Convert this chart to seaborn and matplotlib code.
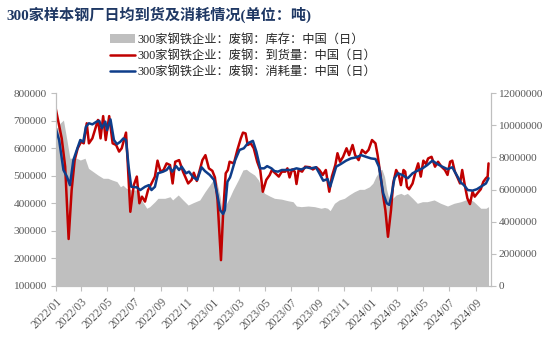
import matplotlib
matplotlib.use("Agg")
import matplotlib.pyplot as plt
import matplotlib.dates as mdates
import matplotlib.ticker as mticker
from matplotlib.patches import Patch
from matplotlib.lines import Line2D
import seaborn as sns
import pandas as pd

# ---- data (tons) ----
arrival_dates = [
    "2022-01-01", "2022-01-08", "2022-01-15", "2022-01-23", "2022-01-31", "2022-02-07",
    "2022-02-14", "2022-02-21", "2022-03-01", "2022-03-07", "2022-03-14", "2022-03-19",
    "2022-03-27", "2022-04-09", "2022-04-15", "2022-04-21", "2022-04-27", "2022-05-05",
    "2022-05-13", "2022-05-21", "2022-05-28", "2022-06-03", "2022-06-13", "2022-06-17",
    "2022-06-23", "2022-07-01", "2022-07-08", "2022-07-14", "2022-07-20", "2022-07-27",
    "2022-08-03", "2022-08-11", "2022-08-19", "2022-08-25", "2022-09-01", "2022-09-08",
    "2022-09-15", "2022-09-23", "2022-09-29", "2022-10-05", "2022-10-14", "2022-10-23",
    "2022-11-04", "2022-11-12", "2022-11-17", "2022-11-24", "2022-12-01", "2022-12-07",
    "2022-12-14", "2022-12-22", "2022-12-30", "2023-01-05", "2023-01-11", "2023-01-19",
    "2023-01-24", "2023-01-30", "2023-02-04", "2023-02-08", "2023-02-18", "2023-02-26",
    "2023-03-06", "2023-03-11", "2023-03-17", "2023-03-22", "2023-03-29", "2023-04-05",
    "2023-04-13", "2023-04-20", "2023-04-26", "2023-05-04", "2023-05-12", "2023-05-17",
    "2023-05-25", "2023-06-02", "2023-06-09", "2023-06-17", "2023-06-22", "2023-06-27",
    "2023-07-03", "2023-07-09", "2023-07-13", "2023-07-18", "2023-07-26", "2023-08-02",
    "2023-08-13", "2023-08-20", "2023-08-28", "2023-09-04", "2023-09-12", "2023-09-19",
    "2023-09-27", "2023-10-03", "2023-10-11", "2023-10-16", "2023-10-22", "2023-10-29",
    "2023-11-06", "2023-11-12", "2023-11-20", "2023-11-26", "2023-12-04", "2023-12-12",
    "2023-12-20", "2023-12-27", "2024-01-04", "2024-01-12", "2024-01-17", "2024-01-23",
    "2024-01-29", "2024-02-04", "2024-02-10", "2024-02-17", "2024-02-22", "2024-02-29",
    "2024-03-06", "2024-03-11", "2024-03-17", "2024-03-21", "2024-03-25", "2024-03-30",
    "2024-04-07", "2024-04-14", "2024-04-20", "2024-04-26", "2024-05-02", "2024-05-08",
    "2024-05-13", "2024-05-21", "2024-05-29", "2024-06-05", "2024-06-13", "2024-06-21",
    "2024-06-27", "2024-07-03", "2024-07-08", "2024-07-14", "2024-07-20", "2024-07-26",
    "2024-07-31", "2024-08-06", "2024-08-12", "2024-08-18", "2024-08-24", "2024-08-29",
    "2024-09-04", "2024-09-12", "2024-09-18", "2024-09-24", "2024-09-28", "2024-09-30",
]
arrival_tons = [
    745000, 691000, 636000, 533000, 270000, 448000,
    557000, 600000, 624000, 618000, 691000, 618000,
    636000, 703000, 636000, 717000, 630000, 717000,
    618000, 612000, 588000, 600000, 657000, 545000,
    369000, 466000, 497000, 400000, 424000, 406000,
    448000, 472000, 497000, 555000, 515000, 521000,
    545000, 539000, 472000, 551000, 557000, 515000,
    472000, 485000, 511000, 481000, 521000, 557000,
    575000, 527000, 518000, 494000, 412000, 193000,
    363000, 509000, 521000, 551000, 545000, 594000,
    636000, 657000, 654000, 612000, 618000, 600000,
    551000, 521000, 442000, 485000, 503000, 521000,
    509000, 497000, 515000, 515000, 527000, 494000,
    523000, 515000, 470000, 521000, 515000, 533000,
    531000, 523000, 531000, 521000, 503000, 521000,
    442000, 497000, 539000, 582000, 551000, 569000,
    600000, 575000, 612000, 575000, 557000, 594000,
    582000, 594000, 630000, 618000, 575000, 509000,
    436000, 375000, 278000, 375000, 472000, 521000,
    503000, 466000, 521000, 515000, 460000, 451000,
    472000, 515000, 545000, 497000, 555000, 543000,
    563000, 569000, 533000, 551000, 533000, 521000,
    503000, 551000, 555000, 515000, 494000, 472000,
    521000, 466000, 418000, 397000, 442000, 424000,
    436000, 451000, 478000, 491000, 497000, 545000,
]

consumption_dates = [
    "2022-01-01", "2022-01-09", "2022-01-19", "2022-01-27", "2022-02-03", "2022-02-11",
    "2022-02-19", "2022-02-27", "2022-03-06", "2022-03-12", "2022-03-19", "2022-03-27",
    "2022-04-06", "2022-04-12", "2022-04-18", "2022-04-26", "2022-04-30", "2022-05-08",
    "2022-05-16", "2022-05-23", "2022-05-31", "2022-06-07", "2022-06-13", "2022-06-19",
    "2022-06-25", "2022-07-08", "2022-07-16", "2022-07-27", "2022-08-05", "2022-08-11",
    "2022-08-19", "2022-08-26", "2022-09-07", "2022-09-15", "2022-09-21", "2022-09-28",
    "2022-10-07", "2022-10-14", "2022-10-20", "2022-10-30", "2022-11-06", "2022-11-16",
    "2022-11-25", "2022-12-05", "2022-12-13", "2022-12-24", "2023-01-03", "2023-01-10",
    "2023-01-17", "2023-01-24", "2023-01-28", "2023-02-03", "2023-02-09", "2023-02-12",
    "2023-02-21", "2023-03-03", "2023-03-13", "2023-03-22", "2023-04-03", "2023-04-11",
    "2023-04-20", "2023-04-29", "2023-05-06", "2023-05-16", "2023-05-23", "2023-05-31",
    "2023-06-09", "2023-06-19", "2023-07-01", "2023-07-13", "2023-07-24", "2023-08-05",
    "2023-08-16", "2023-08-27", "2023-09-04", "2023-09-13", "2023-09-23", "2023-09-29",
    "2023-10-05", "2023-10-13", "2023-10-24", "2023-11-05", "2023-11-16", "2023-11-28",
    "2023-12-10", "2023-12-21", "2024-01-02", "2024-01-12", "2024-01-20", "2024-01-25",
    "2024-01-30", "2024-02-07", "2024-02-13", "2024-02-19", "2024-02-25", "2024-03-04",
    "2024-03-14", "2024-03-23", "2024-03-27", "2024-04-07", "2024-04-18", "2024-04-30",
    "2024-05-11", "2024-05-23", "2024-06-03", "2024-06-15", "2024-06-27", "2024-07-08",
    "2024-07-18", "2024-07-28", "2024-08-04", "2024-08-13", "2024-08-24", "2024-09-03",
    "2024-09-12", "2024-09-24", "2024-09-30",
]
consumption_tons = [
    673000, 630000, 521000, 497000, 466000, 557000,
    594000, 630000, 624000, 678000, 691000, 687000,
    697000, 700000, 673000, 697000, 666000, 705000,
    630000, 615000, 624000, 636000, 630000, 533000,
    460000, 458000, 448000, 460000, 466000, 448000,
    460000, 509000, 515000, 521000, 533000, 515000,
    535000, 521000, 533000, 509000, 515000, 494000,
    485000, 531000, 517000, 503000, 485000, 436000,
    375000, 361000, 375000, 478000, 494000, 509000,
    557000, 594000, 600000, 618000, 627000, 588000,
    527000, 527000, 535000, 527000, 517000, 515000,
    521000, 521000, 521000, 527000, 523000, 531000,
    527000, 531000, 509000, 482000, 488000, 460000,
    491000, 533000, 543000, 555000, 563000, 567000,
    575000, 569000, 563000, 561000, 533000, 485000,
    436000, 400000, 394000, 436000, 491000, 509000,
    503000, 494000, 491000, 509000, 518000, 527000,
    539000, 555000, 543000, 533000, 524000, 531000,
    503000, 475000, 466000, 448000, 446000, 451000,
    460000, 472000, 491000,
]

stock_dates = [
    "2022-01-01", "2022-01-08", "2022-01-11", "2022-01-19", "2022-01-27", "2022-02-03",
    "2022-02-11", "2022-02-19", "2022-02-27", "2022-03-10", "2022-03-18", "2022-03-29",
    "2022-04-09", "2022-04-21", "2022-05-02", "2022-05-12", "2022-05-23", "2022-05-31",
    "2022-06-06", "2022-06-14", "2022-06-26", "2022-07-07", "2022-07-12", "2022-07-20",
    "2022-07-31", "2022-08-07", "2022-08-19", "2022-08-26", "2022-09-11", "2022-09-23",
    "2022-09-29", "2022-10-12", "2022-10-23", "2022-11-04", "2022-11-16", "2022-12-01",
    "2022-12-13", "2022-12-24", "2023-01-05", "2023-01-10", "2023-01-17", "2023-01-23",
    "2023-01-30", "2023-02-09", "2023-02-16", "2023-02-28", "2023-03-11", "2023-03-19",
    "2023-03-26", "2023-04-07", "2023-04-16", "2023-04-22", "2023-04-30", "2023-05-12",
    "2023-05-23", "2023-06-08", "2023-06-23", "2023-07-05", "2023-07-13", "2023-07-24",
    "2023-08-09", "2023-08-24", "2023-09-08", "2023-09-16", "2023-09-23", "2023-09-29",
    "2023-10-09", "2023-10-20", "2023-11-01", "2023-11-12", "2023-11-24", "2023-12-06",
    "2023-12-17", "2023-12-29", "2024-01-06", "2024-01-13", "2024-01-23", "2024-01-27",
    "2024-02-02", "2024-02-07", "2024-02-13", "2024-02-21", "2024-02-29", "2024-03-11",
    "2024-03-18", "2024-03-26", "2024-04-07", "2024-04-18", "2024-04-30", "2024-05-11",
    "2024-05-27", "2024-06-11", "2024-06-27", "2024-07-12", "2024-07-28", "2024-08-08",
    "2024-08-15", "2024-08-27", "2024-09-12", "2024-09-24", "2024-09-30",
]
stock_tons = [
    9820000, 9920000, 10130000, 10330000, 9090000, 7950000,
    7950000, 7950000, 7840000, 7950000, 7320000, 7110000,
    6900000, 6700000, 6700000, 6590000, 6490000, 6170000,
    6270000, 6070000, 5970000, 5970000, 5900000, 5300000,
    4830000, 4930000, 5240000, 5450000, 5450000, 5550000,
    5350000, 5660000, 5350000, 5030000, 5180000, 5350000,
    5860000, 6280000, 6760000, 6390000, 5550000, 4410000,
    5030000, 5550000, 5970000, 6590000, 7220000, 7260000,
    7110000, 6900000, 6590000, 6170000, 5760000, 5590000,
    5450000, 5400000, 5300000, 5240000, 4970000, 4930000,
    4970000, 4930000, 4830000, 4880000, 4830000, 4680000,
    5140000, 5350000, 5450000, 5660000, 5860000, 6010000,
    6010000, 6170000, 6390000, 6800000, 7220000, 7260000,
    6800000, 5970000, 5350000, 5450000, 5660000, 5760000,
    5660000, 5760000, 5450000, 5140000, 5240000, 5240000,
    5350000, 5140000, 4970000, 5140000, 5240000, 5350000,
    5450000, 5240000, 4830000, 4830000, 4930000,
]

title_text = "300家样本钢厂日均到货及消耗情况(单位：吨)"
legend_labels = [
    "300家钢铁企业：废钢：库存：中国（日）",
    "300家钢铁企业：废钢：到货量：中国（日）",
    "300家钢铁企业：废钢：消耗量：中国（日）",
]

STOCK_COLOR = "#BFBFBF"
ARRIVAL_COLOR = "#C00000"
CONSUME_COLOR = "#0E3D8A"
TICK_COLOR = "#595959"
SPINE_COLOR = "#BFBFBF"

sns.set_theme(style="white")
plt.rcParams["font.family"] = ["Liberation Serif", "Noto Sans CJK SC", "DejaVu Sans"]

stock = pd.DataFrame({"date": pd.to_datetime(stock_dates), "tons": stock_tons})
arrival = pd.DataFrame({"date": pd.to_datetime(arrival_dates), "tons": arrival_tons})
consume = pd.DataFrame({"date": pd.to_datetime(consumption_dates), "tons": consumption_tons})

fig = plt.figure(figsize=(5.54, 3.5), dpi=100)
ax = fig.add_axes([0.1005, 0.1837, 0.7852, 0.5497])
ax2 = ax.twinx()
ax.set_zorder(ax2.get_zorder() + 1)
ax.patch.set_visible(False)

# inventory as a filled area on the right axis
ax2.fill_between(stock["date"], stock["tons"], 0, color=STOCK_COLOR, linewidth=0)

# arrivals and consumption on the left axis
sns.lineplot(data=arrival, x="date", y="tons", ax=ax, color=ARRIVAL_COLOR, linewidth=1.8)
sns.lineplot(data=consume, x="date", y="tons", ax=ax, color=CONSUME_COLOR, linewidth=1.8)

ax.set_xlim(pd.Timestamp("2022-01-01"), pd.Timestamp("2024-10-05"))
ax.set_ylim(100000, 800000)
ax2.set_ylim(0, 12000000)
ax.set_xlabel("")
ax.set_ylabel("")
ax2.set_ylabel("")

ax.yaxis.set_major_locator(mticker.MultipleLocator(100000))
ax.yaxis.set_major_formatter(mticker.StrMethodFormatter("{x:.0f}"))
ax2.yaxis.set_major_locator(mticker.MultipleLocator(2000000))
ax2.yaxis.set_major_formatter(mticker.StrMethodFormatter("{x:.0f}"))
ax.xaxis.set_major_locator(mdates.MonthLocator(bymonth=[1, 3, 5, 7, 9, 11]))
ax.xaxis.set_major_formatter(mdates.DateFormatter("%Y/%m"))

for a in (ax, ax2):
    a.spines["top"].set_visible(False)
    for side in ("left", "right", "bottom"):
        a.spines[side].set_color(SPINE_COLOR)
        a.spines[side].set_linewidth(0.8)

ax.tick_params(axis="y", left=True, length=3.5, width=0.8, color=SPINE_COLOR,
               labelcolor=TICK_COLOR, labelsize=8.2, pad=3)
ax.tick_params(axis="x", bottom=True, length=3.5, width=0.8, color=SPINE_COLOR,
               labelcolor=TICK_COLOR, labelsize=8.4, pad=4)
ax2.tick_params(axis="y", right=True, length=3.5, width=0.8, color=SPINE_COLOR,
                labelcolor=TICK_COLOR, labelsize=8.2, pad=2)
for lbl in ax.get_xticklabels():
    lbl.set_rotation(45)
    lbl.set_ha("right")
    lbl.set_va("top")
    lbl.set_rotation_mode("anchor")

# title
fig.text(6 / 554, 1 - 14.5 / 350, title_text, fontsize=10.9, fontweight="bold",
         color="#1F3864", ha="left", va="center",
         family=["Liberation Serif", "Noto Sans CJK SC"])

# legend
handles = [
    Patch(facecolor=STOCK_COLOR, edgecolor="none"),
    Line2D([], [], color=ARRIVAL_COLOR, linewidth=1.8),
    Line2D([], [], color=CONSUME_COLOR, linewidth=1.8),
]
fig.legend(handles, legend_labels, loc="upper left", bbox_to_anchor=(110 / 554, 1 - 33.5 / 350),
           frameon=False, handlelength=2.05, handletextpad=0.2,
           labelspacing=0.36, borderpad=0, borderaxespad=0,
           prop={"family": ["Liberation Serif", "Noto Sans CJK SC"], "size": 8.8})

fig.savefig("out.png", dpi=100)
